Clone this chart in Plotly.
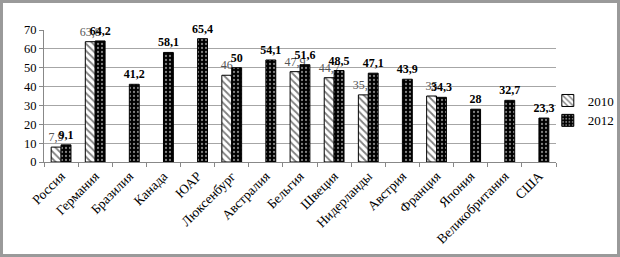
import plotly.graph_objects as go

countries = ["Россия", "Германия", "Бразилия", "Канада", "ЮАР", "Люксенбург", "Австралия",
             "Бельгия", "Швеция", "Нидерланды", "Австрия", "Франция", "Япония",
             "Великобритания", "США"]
values_2010 = [7.9, 63.8, None, None, None, 46, None, 47.9, 44.7, 35.6, None, 35, None, None, None]
values_2012 = [9.1, 64.2, 41.2, 58.1, 65.4, 50, 54.1, 51.6, 48.5, 47.1, 43.9, 34.3, 28, 32.7, 23.3]
y_ticks = [0, 10, 20, 30, 40, 50, 60, 70]


def fmt(v):
    if v is None:
        return ""
    s = f"{v:g}"
    return s.replace(".", ",")


W, H = 620, 257
ml, mr, mt, mb = 44, 64, 30, 95
pw, ph = W - ml - mr, H - mt - mb

serif = "Liberation Serif"

fig = go.Figure()
fig.add_trace(go.Bar(
    name="2010", x=countries, y=values_2010,
    text=[fmt(v) for v in values_2010], textposition="outside",
    textfont=dict(family=serif, size=12, color="#555555"),
    constraintext="none", cliponaxis=False,
    marker=dict(color="white", line=dict(color="black", width=1),
                pattern=dict(shape="\\", fgcolor="black", bgcolor="white",
                             size=5, solidity=0.35)),
))
fig.add_trace(go.Bar(
    name="2012", x=countries, y=values_2012,
    text=[fmt(v) for v in values_2012], texttemplate="<b>%{text}</b>", textposition="outside",
    textfont=dict(family=serif, size=12, color="black"),
    constraintext="none", cliponaxis=False,
    marker=dict(color="black", line=dict(color="black", width=1),
                pattern=dict(shape=".", fgcolor="white", bgcolor="black",
                             size=4, solidity=0.25)),
))

fig.update_layout(
    width=W, height=H,
    margin=dict(l=ml, r=mr, t=mt, b=mb, autoexpand=False),
    paper_bgcolor="white", plot_bgcolor="white",
    barmode="group", bargap=0.42, bargroupgap=0.0,
    font=dict(family=serif, size=12, color="black"),
    showlegend=True,
    legend=dict(x=0.984, y=0.39, xanchor="left", yanchor="middle",
                font=dict(family=serif, size=13, color="black"),
                itemwidth=30, tracegroupgap=2, bgcolor="rgba(0,0,0,0)"),
    xaxis=dict(tickangle=-45, tickfont=dict(family=serif, size=13.5, color="black"),
               showline=True, linecolor="#888888", linewidth=1,
               ticks="outside", ticklen=4, tickcolor="#888888",
               tickson="boundaries", showgrid=False, automargin=False),
    yaxis=dict(range=[0, 70], tickvals=y_ticks, tickfont=dict(family=serif, size=12.5, color="black"),
               showline=True, linecolor="#888888", linewidth=1,
               ticks="outside", ticklen=4, tickcolor="#888888",
               showgrid=True, gridcolor="#a6a6a6", gridwidth=1, zeroline=False,
               automargin=False),
    shapes=[dict(type="rect", xref="paper", yref="paper",
                 x0=(1.5 - ml) / pw, x1=(W - 1.5 - ml) / pw,
                 y0=(mt + ph - (H - 1.5)) / ph, y1=(mt + ph - 1.5) / ph,
                 line=dict(color="#9a9a9a", width=3), layer="below")],
)

fig.write_html("out.html", config={"displayModeBar": False},
               post_script="document.body.style.margin='0';document.body.style.padding='0';")
